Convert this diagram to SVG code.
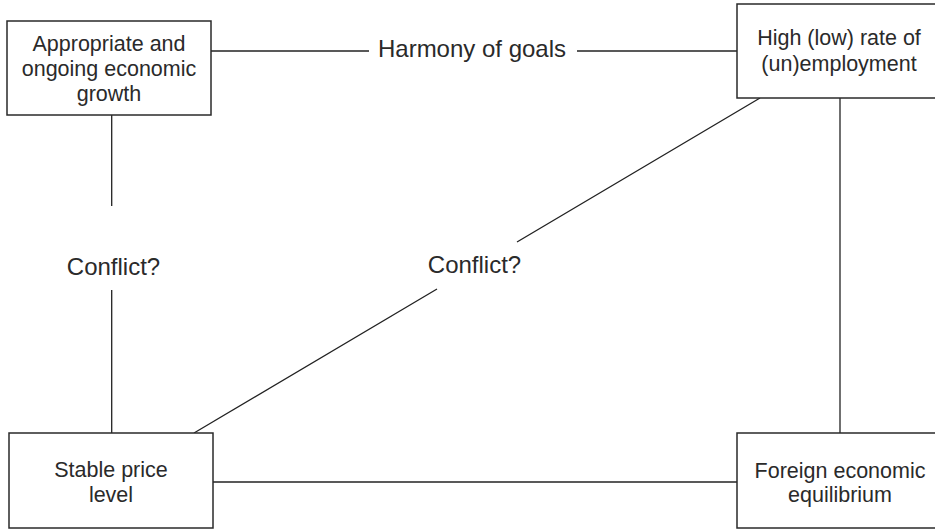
<svg xmlns="http://www.w3.org/2000/svg" width="935" height="530" viewBox="0 0 935 530">
<style>
.box{fill:#fff;stroke:#2a2a2a;stroke-width:1.5}
.ln{stroke:#222;stroke-width:1.3;fill:none}
.t{font-family:"Liberation Sans",Arial,sans-serif;font-size:21.5px;fill:#2a2a2a;text-anchor:middle}
.lbl{font-family:"Liberation Sans",Arial,sans-serif;font-size:24px;fill:#2a2a2a;text-anchor:middle}
</style>
<rect width="935" height="530" fill="#fff"/>
<g id="connectors">
<line class="ln" x1="211" y1="51" x2="369" y2="51"/>
<line class="ln" x1="577" y1="51" x2="737" y2="51"/>
<line class="ln" x1="111.7" y1="115" x2="111.7" y2="206"/>
<line class="ln" x1="111.7" y1="290" x2="111.7" y2="433"/>
<line class="ln" x1="760" y1="98" x2="517" y2="242"/>
<line class="ln" x1="437" y1="289" x2="194" y2="433"/>
<line class="ln" x1="840" y1="98" x2="840" y2="433"/>
<line class="ln" x1="213" y1="482" x2="737" y2="482"/>
</g>
<g id="labels">
<text class="lbl" x="472" y="57">Harmony of goals</text>
<text class="lbl" x="113.5" y="275">Conflict?</text>
<text class="lbl" x="474.5" y="273">Conflict?</text>
</g>
<g id="growth">
<rect class="box" x="7" y="21" width="204" height="94"/>
<text class="t" x="109" y="51">Appropriate and</text>
<text class="t" x="109" y="76">ongoing economic</text>
<text class="t" x="109" y="101">growth</text>
</g>
<g id="employment">
<rect class="box" x="737" y="4" width="206" height="94"/>
<text class="t" x="839" y="45">High (low) rate of</text>
<text class="t" x="839" y="70.5">(un)employment</text>
</g>
<g id="price">
<rect class="box" x="9" y="433" width="204" height="95"/>
<text class="t" x="111" y="477">Stable price</text>
<text class="t" x="111" y="502">level</text>
</g>
<g id="foreign">
<rect class="box" x="737" y="433" width="206" height="95"/>
<text class="t" x="840" y="478">Foreign economic</text>
<text class="t" x="840" y="502">equilibrium</text>
</g>
</svg>
